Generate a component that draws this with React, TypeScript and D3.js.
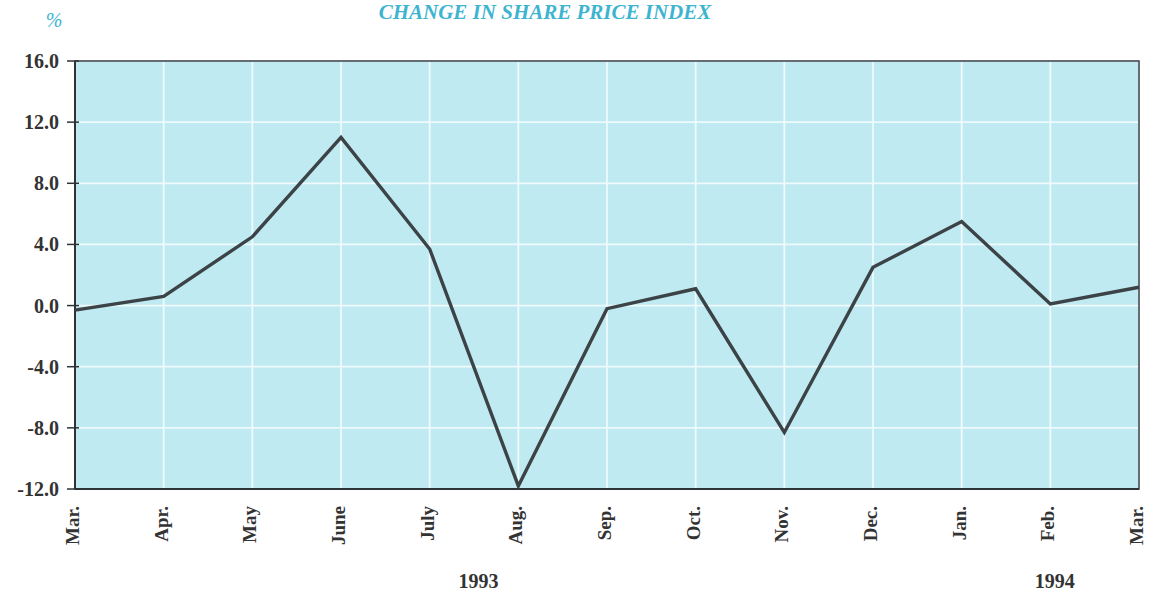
import React from "react";
import * as d3 from "d3";

const months = ["Mar.", "Apr.", "May", "June", "July", "Aug.", "Sep.", "Oct.", "Nov.", "Dec.", "Jan.", "Feb.", "Mar."];
const values = [-0.3, 0.6, 4.5, 11.0, 3.7, -11.8, -0.2, 1.1, -8.3, 2.5, 5.5, 0.1, 1.2];
const yTicks = [-12, -8, -4, 0, 4, 8, 12, 16];
const years = [
  { label: "1993", at: 4.55 },
  { label: "1994", at: 11.05 },
];
const title = "CHANGE IN SHARE PRICE INDEX";
const unit = "%";

export default function App() {
  const W = 1149, H = 597;
  const left = 75, right = 1139, top = 61, bottom = 489;
  const x = d3.scaleLinear().domain([0, months.length - 1]).range([left, right]);
  const y = d3.scaleLinear().domain([-12, 16]).range([bottom, top]);
  const line = d3.line<number>().x((_, i) => x(i)).y((d) => y(d));
  const font = "'Liberation Serif', 'Times New Roman', serif";
  const cyan = "#3db4d0";
  return (
    <svg width={W} height={H} style={{ position: "absolute", left: 0, top: 0, background: "#fff" }}>
      <rect x={left} y={top} width={right - left} height={bottom - top} fill="#c0eaf1" />
      {months.map((_, i) => (
        <line key={"v" + i} x1={x(i)} x2={x(i)} y1={top} y2={bottom} stroke="#eefafc" strokeWidth={1.8} />
      ))}
      {yTicks.map((t) => (
        <line key={"h" + t} x1={left} x2={right} y1={y(t)} y2={y(t)} stroke="#eefafc" strokeWidth={1.8} />
      ))}
      <rect x={left} y={top} width={right - left} height={bottom - top} fill="none" stroke="#3a3f42" strokeWidth={1.5} />
      <line x1={left} x2={left} y1={top} y2={bottom} stroke="#2e3336" strokeWidth={2} />
      <line x1={left} x2={right} y1={bottom} y2={bottom} stroke="#2e3336" strokeWidth={2} />
      {yTicks.map((t) => (
        <g key={"t" + t}>
          <line x1={left - 8} x2={left + 4} y1={y(t)} y2={y(t)} stroke="#2e3336" strokeWidth={1.5} />
          <text x={59} y={y(t)} dy="0.35em" textAnchor="end" fontFamily={font} fontWeight="bold" fontSize={20} fill="#333">
            {t.toFixed(1)}
          </text>
        </g>
      ))}
      <path d={line(values) || ""} fill="none" stroke="#3b4347" strokeWidth={3.4} strokeLinejoin="miter" />
      {months.map((m, i) => (
        <text key={"m" + i} transform={`translate(${x(i) + 4},${506}) rotate(-90)`} textAnchor="end" fontFamily={font} fontWeight="bold" fontSize={19} fill="#333">
          {m}
        </text>
      ))}
      {years.map((yr) => (
        <text key={yr.label} x={x(yr.at)} y={588} textAnchor="middle" fontFamily={font} fontWeight="bold" fontSize={20} fill="#333">
          {yr.label}
        </text>
      ))}
      <text x={545} y={19} textAnchor="middle" fontFamily={font} fontWeight="bold" fontStyle="italic" fontSize={21} fill={cyan}>
        {title}
      </text>
      <text x={54} y={27} textAnchor="middle" fontFamily={font} fontStyle="italic" fontSize={20} fill={cyan}>
        {unit}
      </text>
    </svg>
  );
}
